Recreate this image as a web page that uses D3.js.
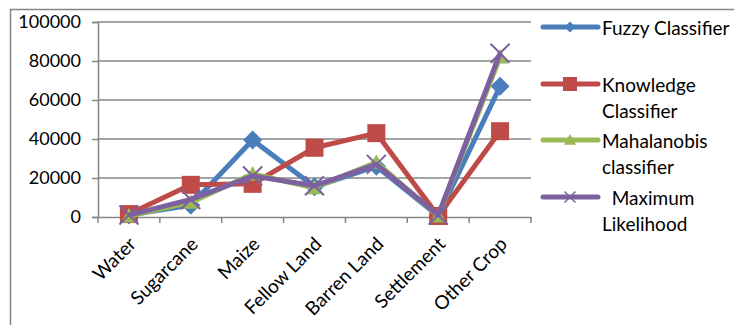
<!DOCTYPE html>
<html>
<head>
<meta charset="utf-8">
<script src="https://cdn.jsdelivr.net/npm/d3@7"></script>
<style>
  body { margin: 0; background: #fff; }
  text { font-family: Lato, "Open Sans", sans-serif; fill: #000; }
</style>
</head>
<body>
<svg id="chart" width="734" height="325"></svg>
<script>
// chart data
const categories = ["Water", "Sugarcane", "Maize", "Fellow Land", "Barren Land", "Settlement", "Other Crop"];
const fuzzy = [1000, 6000, 39500, 15500, 26000, 500, 67000];
const knowledge = [1500, 16500, 17000, 35500, 43000, 500, 44000];
const mahalanobis = [500, 7500, 22000, 15000, 28000, 500, 82000];
const maxLikelihood = [1000, 9000, 21000, 16000, 27000, 1000, 84000];
const seriesNames = [["Fuzzy Classifier"], ["Knowledge", "Classifier"], ["Mahalanobis", "classifier"], ["  Maximum", "Likelihood"]];
const yTicks = [0, 20000, 40000, 60000, 80000, 100000];

const colors = ["#4a7ebb", "#be4b48", "#98b954", "#7d60a0"];
const markers = ["diamond", "square", "triangle", "cross"];
const series = [fuzzy, knowledge, mahalanobis, maxLikelihood];

const svg = d3.select("svg#chart");
const plot = {left: 98, right: 531, top: 22, bottom: 217};
const axisColor = "#868686";

// outer frame (only top and left visible)
svg.append("path")
   .attr("d", "M10.5,325 L10.5,9.5 L734,9.5")
   .attr("fill", "none").attr("stroke", axisColor).attr("stroke-width", 1.5);

const x = d3.scaleBand().domain(categories).range([plot.left, plot.right]);
const y = d3.scaleLinear().domain([0, 100000]).range([plot.bottom, plot.top]);

// gridlines
svg.append("g").selectAll("line").data(yTicks.filter(d => d > 0))
   .join("line")
   .attr("x1", plot.left).attr("x2", plot.right)
   .attr("y1", d => y(d)).attr("y2", d => y(d))
   .attr("stroke", axisColor).attr("stroke-width", 1.5);

// y axis
const yAxis = svg.append("g")
   .attr("transform", `translate(${plot.left},0)`)
   .call(d3.axisLeft(y).tickValues(yTicks).tickSize(6).tickPadding(11).tickFormat(d3.format("d")));
yAxis.select(".domain").attr("stroke", axisColor).attr("stroke-width", 1.5);
yAxis.selectAll(".tick line").attr("stroke", axisColor).attr("stroke-width", 1.5);
yAxis.selectAll("text").attr("font-size", "18px").attr("font-family", "Lato, sans-serif").attr("fill", "#000");

// x axis
const xAxis = svg.append("g")
   .attr("transform", `translate(0,${plot.bottom})`)
   .call(d3.axisBottom(x).tickSize(0).tickFormat(""));
xAxis.select(".domain").attr("stroke", axisColor).attr("stroke-width", 1.5);
const bounds = categories.map(c => x(c)).concat([plot.right]);
xAxis.append("g").selectAll("line").data(bounds).join("line")
   .attr("x1", d => d).attr("x2", d => d).attr("y1", 0).attr("y2", 6)
   .attr("stroke", axisColor).attr("stroke-width", 1.5);
xAxis.append("g").selectAll("text").data(categories).join("text")
   .attr("transform", d => `translate(${x(d) + x.bandwidth() / 2 + 3},23) rotate(-45)`)
   .attr("text-anchor", "end")
   .attr("dominant-baseline", "central")
   .attr("font-size", "19px")
   .text(d => d);

// series lines
const line = d3.line().x((d, i) => x(categories[i]) + x.bandwidth() / 2).y(d => y(d));

function markerPath(type, s) {
  if (type === "diamond") return `M0,${-s}L${s},0L0,${s}L${-s},0Z`;
  if (type === "square") return `M${-s},${-s}H${s}V${s}H${-s}Z`;
  if (type === "triangle") return `M0,${-s}L${s},${s * 0.8}L${-s},${s * 0.8}Z`;
  return `M${-s},${-s}L${s},${s}M${s},${-s}L${-s},${s}`;
}
const markerSize = [9.5, 9, 8, 9.5];

series.forEach((vals, k) => {
  const g = svg.append("g").attr("class", "series");
  g.append("path").datum(vals)
   .attr("d", line).attr("fill", "none")
   .attr("stroke", colors[k]).attr("stroke-width", 5).attr("stroke-linejoin", "round");
  g.selectAll("path.mark").data(vals).join("path").attr("class", "mark")
   .attr("transform", (d, i) => `translate(${x(categories[i]) + x.bandwidth() / 2},${y(d)})`)
   .attr("d", markerPath(markers[k], markerSize[k]))
   .attr("fill", markers[k] === "cross" ? "none" : colors[k])
   .attr("stroke", colors[k]).attr("stroke-width", markers[k] === "cross" ? 2 : 0);
});

// legend
const legendY = [27, 84, 140, 197];
const legendMarker = [5.5, 7, 6, 5.5];
const legend = svg.append("g");
seriesNames.forEach((lines, k) => {
  const g = legend.append("g").attr("transform", `translate(0,${legendY[k]})`);
  g.append("line").attr("x1", 543).attr("x2", 598).attr("y1", 0).attr("y2", 0)
   .attr("stroke", colors[k]).attr("stroke-width", 5).attr("stroke-linecap", "round");
  g.append("path").attr("transform", "translate(570,0)")
   .attr("d", markerPath(markers[k], legendMarker[k]))
   .attr("fill", markers[k] === "cross" ? "none" : colors[k])
   .attr("stroke", colors[k]).attr("stroke-width", markers[k] === "cross" ? 1.5 : 0);
  g.selectAll("text").data(lines).join("text")
   .attr("x", 602).attr("y", (d, i) => i * 26)
   .attr("dominant-baseline", "central")
   .attr("font-size", "19px")
   .attr("xml:space", "preserve")
   .style("white-space", "pre")
   .text(d => d);
});
</script>
</body>
</html>
